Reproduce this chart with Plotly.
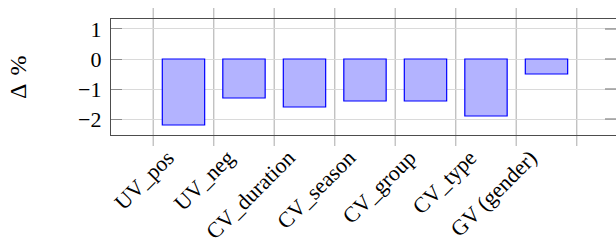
import plotly.graph_objects as go

categories = ["UV_pos", "UV_neg", "CV_duration", "CV_season", "CV_group", "CV_type", "GV (gender)"]
values = [-2.2, -1.3, -1.6, -1.4, -1.4, -1.9, -0.5]
y_ticks = [1, 0, -1, -2]
y_tick_labels = ["1", "0", "\u22121", "\u22122"]

FONT = "Liberation Serif"
xs = list(range(len(categories)))

fig = go.Figure(go.Bar(
    x=xs, y=values, width=0.7,
    marker=dict(color="#b3b3ff", line=dict(color="#0000ff", width=1.2)),
))

W, H = 616, 245
ML, MR, MT, MB = 111, 0, 19, 110
plot_h = H - MT - MB

shapes = []
for b in [i - 0.5 for i in range(len(categories) + 1)]:
    shapes.append(dict(type="line", xref="x", yref="paper", ysizemode="pixel", yanchor=0,
                       x0=b, x1=b, y0=-11, y1=plot_h + 11,
                       line=dict(color="#bdbdbd", width=1.3), layer="below"))
for t in y_ticks:
    shapes.append(dict(type="line", yref="y", xref="paper", xsizemode="pixel", xanchor=1,
                       y0=t, y1=t, x0=-11, x1=0,
                       line=dict(color="#8c8c8c", width=1.3)))

fig.update_layout(
    width=W, height=H,
    margin=dict(l=ML, r=MR, t=MT, b=MB, autoexpand=False),
    plot_bgcolor="white", paper_bgcolor="white",
    showlegend=False,
    font=dict(family=FONT, size=21, color="black"),
    shapes=shapes,
    annotations=[dict(text="\u0394\u2004%", xref="paper", yref="paper", x=0, y=0.5,
                      xanchor="center", yanchor="middle", xshift=-93, yshift=-1, textangle=-90,
                      showarrow=False, font=dict(family=FONT, size=24))],
)
fig.update_xaxes(
    range=[-1.198, 7.149], tickvals=xs, ticktext=categories, tickangle=-45,
    ticks="", showgrid=False, zeroline=False, automargin=False,
    showline=True, mirror=True, linecolor="#4d4d4d", linewidth=1.3,
    ticklabelshift=-16,
    tickfont=dict(family=FONT, size=22),
)
fig.update_yaxes(
    range=[-2.533, 1.333], tickvals=y_ticks, ticktext=y_tick_labels,
    ticks="inside", ticklen=11, tickcolor="#8c8c8c", tickwidth=1.3,
    showgrid=True, gridcolor="#dadada", gridwidth=1.3, zeroline=False, automargin=False,
    showline=True, linecolor="#4d4d4d", linewidth=1.3,
    ticklabelstandoff=4,
    tickfont=dict(family=FONT, size=22),
)
fig.write_html("out.html", config={"displayModeBar": False},
               post_script="document.body.style.margin='0';document.body.style.overflow='hidden';")
